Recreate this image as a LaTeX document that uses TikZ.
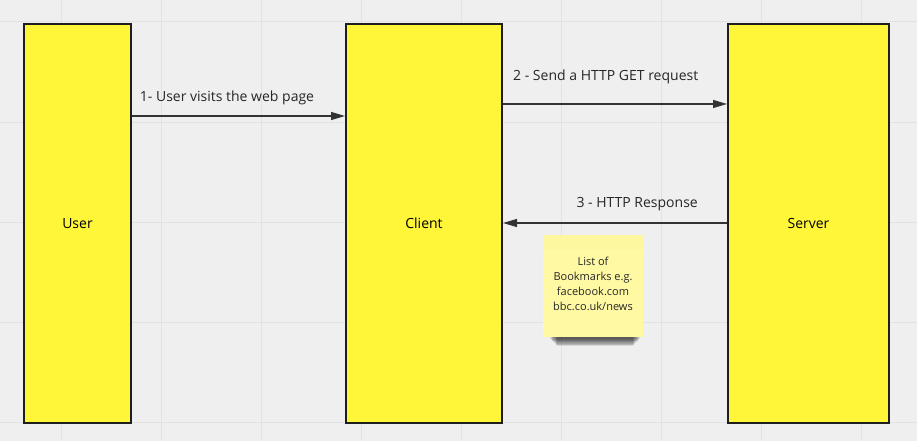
\documentclass[tikz,border=0pt]{standalone}
\usepackage{fontspec}
\setmainfont{Open Sans}
\usetikzlibrary{arrows.meta}
\definecolor{board}{HTML}{EFEFEF}
\definecolor{gridline}{HTML}{E2E2E2}
\definecolor{boxfill}{HTML}{FFF63A}
\definecolor{boxedge}{HTML}{1E1E1E}
\definecolor{notefill}{HTML}{FFF9A3}
\definecolor{notetop}{HTML}{FDF7A0}
\definecolor{linkcol}{HTML}{333333}
\tikzset{
  actor/.style={draw=boxedge, line width=2pt, fill=boxfill, minimum width=#1, minimum height=399pt, inner sep=0pt, anchor=north west, font=\fontsize{14}{16}\selectfont},
  link/.style={draw=linkcol, line width=1.2pt, -{Triangle[length=14pt,width=8pt]}},
  linklabel/.style={font=\fontsize{14}{16}\selectfont, text=black!85, inner sep=0pt},
  notetext/.style={font=\fontsize{11}{15}\selectfont, text=black!85, align=center, inner sep=0pt}
}
\begin{document}
\begin{tikzpicture}[x=1pt, y=-1pt]
  % board and grid
  \fill[board] (0,0) rectangle (917,441);
  \useasboundingbox (0,0) rectangle (917,441);
  \foreach \gx in {61,161,...,861} \draw[gridline, line width=1pt] (\gx,0) -- (\gx,441);
  \foreach \gy in {22,122,...,422} \draw[gridline, line width=1pt] (0,\gy) -- (917,\gy);

  % the three parties
  \node[actor=107pt] (user) at (23,23) {User};
  \node[actor=156pt] (client) at (345,23) {Client};
  \node[actor=161pt] (server) at (727,23) {Server};

  % messages
  \coordinate (u1) at ([yshift=-93pt]user.north east);
  \coordinate (c1) at ([yshift=-93pt]client.north west);
  \draw[link] (u1) -- (c1);
  \node[linklabel, anchor=base] (l1) at (227,102) {1- User visits the web page};

  \coordinate (c2) at ([yshift=-81pt]client.north east);
  \coordinate (s2) at ([yshift=-81pt]server.north west);
  \draw[link] (c2) -- (s2);
  \node[linklabel, anchor=base west] (l2) at (513,81) {2 - Send a HTTP GET request};

  \coordinate (s3) at ([yshift=-200pt]server.north west);
  \coordinate (c3) at ([yshift=-200pt]client.north east);
  \draw[link] (s3) -- (c3);
  \node[linklabel, anchor=base east] (l3) at (698,207) {3 - HTTP Response};

  % sticky note with soft shadow
  \foreach \k in {0,...,9}
    \fill[black, opacity=0.09] (550+\k*0.8,330+\k*0.5) rectangle (640-\k*0.8,339+\k*0.8);
  \fill[notefill] (543,235) rectangle (643,337);
  \fill[notetop] (543,235) rectangle (643,250);
  \node[notetext] (note) at (593,283.5) {List of\\Bookmarks e.g.\\facebook.com\\bbc.co.uk/news};
\end{tikzpicture}
\end{document}
